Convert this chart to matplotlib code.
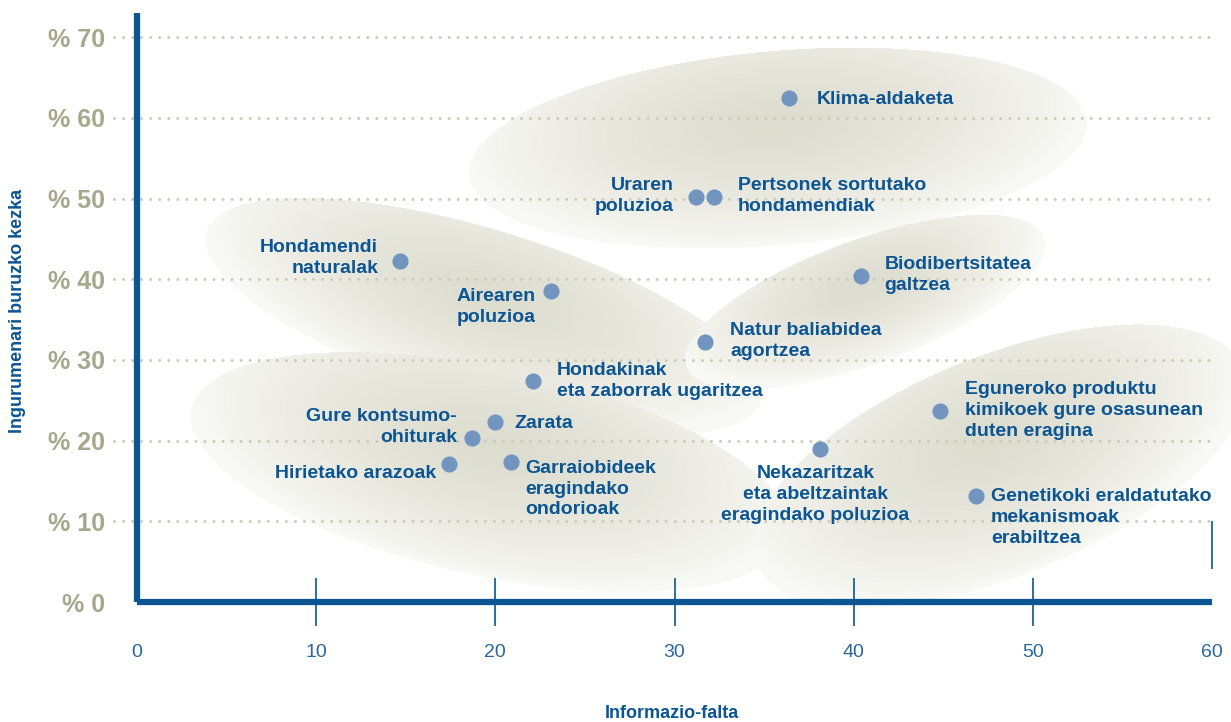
import numpy as np
import matplotlib
matplotlib.use('Agg')
import matplotlib.pyplot as plt
from matplotlib import font_manager

# font: narrow sans if present
names = {f.name for f in font_manager.fontManager.ttflist}
fam = 'Liberation Sans Narrow' if 'Liberation Sans Narrow' in names else 'Liberation Sans'
plt.rcParams['font.family'] = [fam, 'DejaVu Sans']

# data
labels = ['Klima-aldaketa', 'Uraren\npoluzioa', 'Pertsonek sortutako\nhondamendiak',
          'Hondamendi\nnaturalak', 'Airearen\npoluzioa', 'Biodibertsitatea\ngaltzea',
          'Natur baliabidea\nagortzea', 'Hondakinak\neta zaborrak ugaritzea', 'Zarata',
          'Gure kontsumo-\nohiturak', 'Hirietako arazoak', 'Garraiobideek\neragindako\nondorioak',
          'Nekazaritzak\neta abeltzaintak\neragindako poluzioa',
          'Eguneroko produktu\nkimikoek gure osasunean\nduten eragina',
          'Genetikoki eraldatutako\nmekanismoak\nerabiltzea']
info_falta = [36.4, 31.2, 32.2, 14.7, 23.1, 40.4, 31.7, 22.1, 20.0, 18.7, 17.4, 20.9, 38.1, 44.8, 46.8]
kezka = [62.5, 50.2, 50.2, 42.3, 38.5, 40.4, 32.2, 27.4, 22.3, 20.3, 17.1, 17.3, 19.0, 23.7, 13.1]
xticks = [0, 10, 20, 30, 40, 50, 60]
yticks = [0, 10, 20, 30, 40, 50, 60, 70]

# label placement: (dx, dy in points, ha, va)
lab_pos = [(20, -1, 'left', 'center'), (-16, 1, 'right', 'center'), (17, 1, 'left', 'center'),
           (-16, 2, 'right', 'center'), (-11, -11, 'right', 'center'), (17, 1, 'left', 'center'),
           (18, 1, 'left', 'center'), (17, 0, 'left', 'center'), (14, -1, 'left', 'center'),
           (-11, 8, 'right', 'center'), (-9, -7, 'right', 'center'), (10, 2, 'left', 'top'),
           (-3, -12, 'center', 'top'), (18, 0, 'left', 'center'), (11, 6, 'left', 'top')]

blue = '#0b5592'
olive = '#a7a88b'
dot = '#7295c0'

W, H = 1231, 722
fig = plt.figure(figsize=(W / 100, H / 100), dpi=100)

# background shaded ellipses (pixel space)
bg = fig.add_axes([0, 0, 1, 1])
bg.set_xlim(0, W)
bg.set_ylim(H, 0)
bg.axis('off')
yy, xx = np.mgrid[0:H, 0:W] + 0.5
img = np.ones((H, W, 3))
dark = np.array([0.865, 0.865, 0.815])
light = np.array([0.975, 0.975, 0.96])
ellipses = [(484, 316, 290, 86, 17), (778, 148, 310, 97, -5), (865, 302, 190, 62, -20),
            (490, 472, 305, 104, 12), (1000, 466, 262, 110, -22)]
for cx, cy, a, b, ang in ellipses:
    t = np.deg2rad(ang)
    u = (xx - cx) * np.cos(t) + (yy - cy) * np.sin(t)
    v = -(xx - cx) * np.sin(t) + (yy - cy) * np.cos(t)
    r = np.sqrt((u / a) ** 2 + ((v + 0.25 * b) / (1.25 * b)) ** 2)
    inside = (u / a) ** 2 + (v / b) ** 2 <= 1
    k = np.clip(r, 0, 1) ** 1.5
    col = dark[None, None, :] * (1 - k[..., None]) + light[None, None, :] * k[..., None]
    img[inside] = col[inside]
bg.imshow(img, extent=(0, W, H, 0), interpolation='bilinear', zorder=0)

ax = fig.add_axes([137 / W, 1 - 602 / H, (1212 - 137) / W, (602 - 13) / H])
ax.patch.set_alpha(0)
ax.set_xlim(0, 60)
ax.set_ylim(0, 73.0)

for s in ['top', 'right']:
    ax.spines[s].set_visible(False)
for s in ['left', 'bottom']:
    ax.spines[s].set_color(blue)
    ax.spines[s].set_linewidth(4.5)
    ax.spines[s].set_capstyle('butt')
    ax.spines[s].set_zorder(5)

# dotted grid lines
for yv in yticks[1:]:
    ax.plot([-1.3, 60], [yv, yv], color='#cbccb8', linewidth=2.2,
            linestyle=(0, (0.01, 2.95)), dash_capstyle='round', clip_on=False, zorder=1)

# tick marks
ax.vlines(xticks[1:-1], -3.0, 3.0, colors=blue, linewidth=1.2, clip_on=False, zorder=6)
ax.vlines(xticks[-1], 4.1, 10.0, colors=blue, linewidth=1.2, clip_on=False, zorder=6)

ax.set_xticks(xticks)
ax.set_xticklabels([str(v) for v in xticks])
ax.set_yticks(yticks)
ax.set_yticklabels(['% ' + str(v) for v in yticks])
ax.tick_params(axis='x', length=0, pad=30, labelsize=14, labelcolor='#2b679c')
ax.tick_params(axis='y', length=0, pad=23, labelsize=18, labelcolor=olive)
for t in ax.get_yticklabels():
    t.set_fontweight('bold')

ax.scatter(info_falta, kezka, s=135, color=dot, zorder=7, linewidths=0)

for x, y, lab, (dx, dy, ha, va) in zip(info_falta, kezka, labels, lab_pos):
    ax.annotate(lab, (x, y), xytext=(dx, dy), textcoords='offset points',
                ha=ha, va=va, multialignment=ha if ha != 'center' else 'center',
                fontsize=14, fontweight='bold', color=blue, linespacing=1.3, zorder=8)

fig.text(18 / W, 1 - 311 / H, 'Ingurumenari buruzko kezka', rotation=90, ha='center',
         va='center', fontsize=13, fontweight='bold', color=blue)
fig.text(672 / W, 1 - 713 / H, 'Informazio-falta', ha='center', va='center',
         fontsize=13, fontweight='bold', color=blue)

fig.savefig('out.png', dpi=100)
